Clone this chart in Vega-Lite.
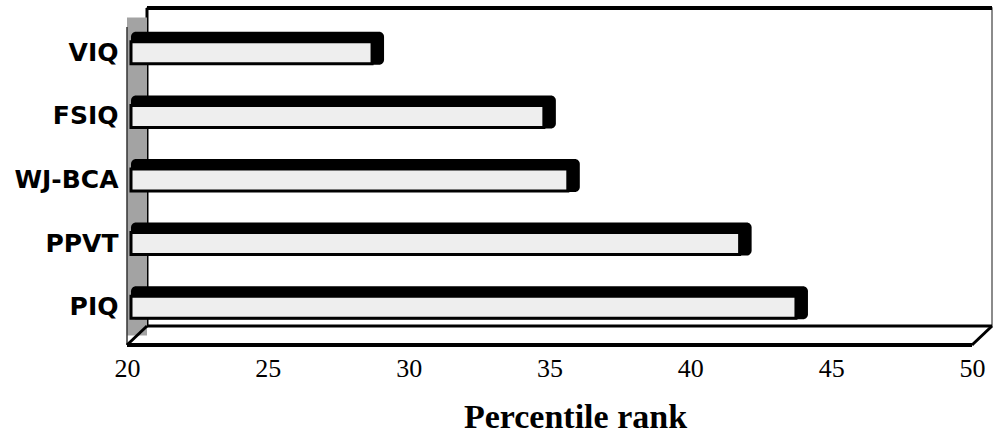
{
  "$schema": "https://vega.github.io/schema/vega-lite/v6.json",
  "width": 845,
  "height": 318,
  "autosize": "none",
  "padding": {"left": 127, "top": 27, "right": 23, "bottom": 92},
  "background": "white",
  "config": {
    "view": {"stroke": null},
    "axisX": {"orient": "bottom", "format": "d", "domain": false, "ticks": false, "grid": false, "labelFont": "Liberation Serif", "labelFontSize": 26, "labelPadding": 10, "labelColor": "black", "labelFlush": false, "titleFont": "Liberation Serif", "titleFontSize": 34, "titleFontWeight": "bold", "titleColor": "black", "titleX": 448, "titleY": 82, "titleBaseline": "alphabetic", "titleAlign": "center"},
    "axisY": {"domain": false, "ticks": false, "grid": false, "labelPadding": 9, "labelOffset": -6, "labelFont": "DejaVu Sans", "labelFontWeight": "bold", "labelFontSize": 25, "labelColor": "black"}
  },
  "resolve": {"scale": {"y": "independent"}},
  "layer": [
    {
      "data": {"values": [{}]},
      "mark": {"type": "rect", "fill": "white", "stroke": "#666666", "strokeWidth": 1.5, "xOffset": 20, "x2Offset": 20, "yOffset": -19, "y2Offset": -19},
      "encoding": {
        "x": {"datum": 20, "type": "quantitative", "scale": {"domain": [20, 50], "nice": false, "zero": false}, "title": "Percentile rank"},
        "x2": {"datum": 50},
        "y": {"datum": 1, "type": "quantitative", "scale": {"domain": [0, 1]}, "axis": null},
        "y2": {"datum": 0}
      }
    },
    {
      "data": {"values": [{}]},
      "mark": {"type": "rule", "color": "black", "strokeWidth": 4, "xOffset": 20, "x2Offset": 20, "yOffset": -19},
      "encoding": {
        "x": {"datum": 20, "type": "quantitative", "title": "Percentile rank"},
        "x2": {"datum": 50},
        "y": {"datum": 1, "type": "quantitative", "scale": {"domain": [0, 1]}, "axis": null}
      }
    },
    {
      "data": {"values": [{}]},
      "mark": {"type": "rule", "color": "black", "strokeWidth": 3, "xOffset": 20, "yOffset": -19, "y2Offset": -19},
      "encoding": {
        "x": {"datum": 20, "type": "quantitative", "title": "Percentile rank"},
        "y": {"datum": 1, "type": "quantitative", "scale": {"domain": [0, 1]}, "axis": null},
        "y2": {"datum": 0}
      }
    },
    {
      "data": {"values": [{}]},
      "mark": {"type": "rect", "fill": "#a3a3a3", "x2Offset": 20, "yOffset": -9.5, "y2Offset": -9.5},
      "encoding": {
        "x": {"datum": 20, "type": "quantitative", "title": "Percentile rank"},
        "x2": {"datum": 20},
        "y": {"datum": 1, "type": "quantitative", "scale": {"domain": [0, 1]}, "axis": null},
        "y2": {"datum": 0}
      }
    },
    {
      "data": {"values": [{}]},
      "mark": {"type": "rule", "color": "#333333", "strokeWidth": 1.5},
      "encoding": {
        "x": {"datum": 20, "type": "quantitative", "title": "Percentile rank"},
        "y": {"datum": 1, "type": "quantitative", "scale": {"domain": [0, 1]}, "axis": null},
        "y2": {"datum": 0}
      }
    },
    {
      "data": {"values": [{}]},
      "mark": {"type": "rule", "color": "black", "strokeWidth": 3, "xOffset": 20, "x2Offset": 20, "yOffset": -19},
      "encoding": {
        "x": {"datum": 20, "type": "quantitative", "title": "Percentile rank"},
        "x2": {"datum": 50},
        "y": {"datum": 0, "type": "quantitative", "scale": {"domain": [0, 1]}, "axis": null}
      }
    },
    {
      "data": {"values": [{}]},
      "mark": {"type": "rule", "color": "black", "strokeWidth": 4},
      "encoding": {
        "x": {"datum": 20, "type": "quantitative", "title": "Percentile rank"},
        "x2": {"datum": 50},
        "y": {"datum": 0, "type": "quantitative", "scale": {"domain": [0, 1]}, "axis": null}
      }
    },
    {
      "data": {"values": [{}]},
      "mark": {"type": "rule", "color": "black", "strokeWidth": 3, "x2Offset": 20, "y2Offset": -19},
      "encoding": {
        "x": {"datum": 20, "type": "quantitative", "title": "Percentile rank"},
        "x2": {"datum": 20},
        "y": {"datum": 0, "type": "quantitative", "scale": {"domain": [0, 1]}, "axis": null},
        "y2": {"datum": 0}
      }
    },
    {
      "data": {"values": [{}]},
      "mark": {"type": "rule", "color": "black", "strokeWidth": 3, "x2Offset": 20, "y2Offset": -19},
      "encoding": {
        "x": {"datum": 50, "type": "quantitative", "title": "Percentile rank"},
        "x2": {"datum": 50},
        "y": {"datum": 0, "type": "quantitative", "scale": {"domain": [0, 1]}, "axis": null},
        "y2": {"datum": 0}
      }
    },
    {
      "data": {
        "values": [
          {"measure": "VIQ", "rank": 28.7},
          {"measure": "FSIQ", "rank": 34.8},
          {"measure": "WJ-BCA", "rank": 35.65},
          {"measure": "PPVT", "rank": 41.75},
          {"measure": "PIQ", "rank": 43.75}
        ]
      },
      "layer": [
        {
          "mark": {"type": "bar", "fill": "black", "height": 33, "yOffset": -10.5, "xOffset": 12, "x2Offset": 4, "cornerRadius": 5},
          "encoding": {
            "y": {"field": "measure", "type": "nominal", "sort": ["VIQ", "FSIQ", "WJ-BCA", "PPVT", "PIQ"], "scale": {"paddingInner": 0.3, "paddingOuter": 0.15}, "title": null},
            "x": {"field": "rank", "type": "quantitative", "title": "Percentile rank"},
            "x2": {"datum": 20}
          }
        },
        {
          "mark": {"type": "bar", "fill": "#eeeeee", "stroke": "black", "strokeWidth": 3, "height": 22, "yOffset": -6, "x2Offset": 4},
          "encoding": {
            "y": {"field": "measure", "type": "nominal", "sort": ["VIQ", "FSIQ", "WJ-BCA", "PPVT", "PIQ"], "scale": {"paddingInner": 0.3, "paddingOuter": 0.15}, "title": null},
            "x": {"field": "rank", "type": "quantitative", "title": "Percentile rank", "axis": {"values": [20, 25, 30, 35, 40, 45, 50], "labelFont": "Liberation Serif", "labelFontSize": 26, "labelPadding": 10, "labelColor": "black", "labelFlush": false}},
            "x2": {"datum": 20}
          }
        }
      ]
    }
  ]
}
